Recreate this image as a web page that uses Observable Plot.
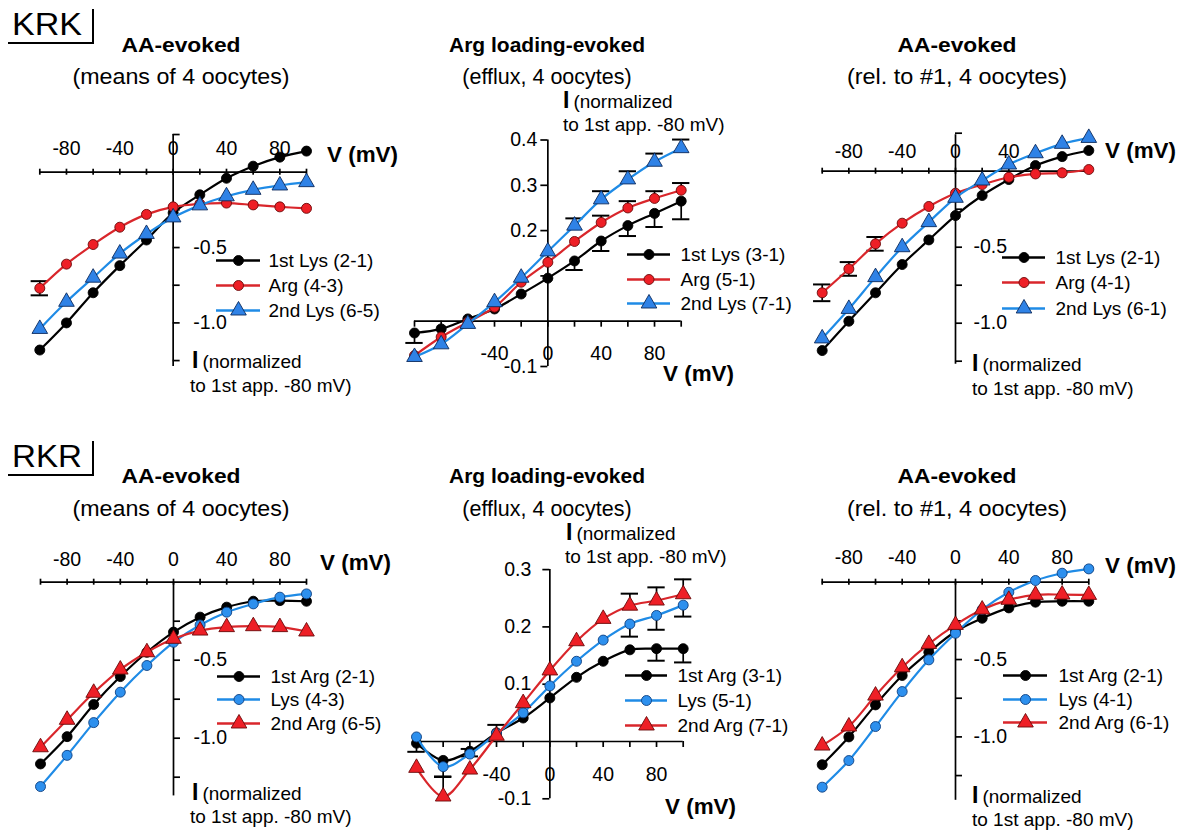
<!DOCTYPE html>
<html><head><meta charset="utf-8">
<script src="https://cdn.jsdelivr.net/npm/d3@7"></script>
<script src="https://cdn.jsdelivr.net/npm/@observablehq/plot@0.6"></script>
<style>
body{margin:0;background:#fff;}
#root{position:relative;width:1188px;height:830px;overflow:hidden;background:#fff;font-family:"Liberation Sans",Arial,sans-serif;}
#root svg{position:absolute;left:0;top:0;}
</style></head><body><div id="root"></div>
<script>
// ---------- data ----------
const V = [-100,-80,-60,-40,-20,0,20,40,60,80,100];
const vTicks = [-100,-80,-60,-40,-20,0,20,40,60,80,100];

// KRK, AA-evoked (means of 4 oocytes)
const krkMeansNames = ["1st Lys (2-1)","Arg (4-3)","2nd Lys (6-5)"];
const krkMeansLys1 = [-1.18,-1.00,-0.80,-0.62,-0.45,-0.27,-0.15,-0.04,0.04,0.10,0.14];
const krkMeansArg  = [-0.77,-0.61,-0.48,-0.365,-0.28,-0.23,-0.21,-0.205,-0.217,-0.23,-0.24];
const krkMeansArgErr = [0.047,0,0,0,0,0,0,0,0,0,0];
const krkMeansLys2 = [-1.04,-0.86,-0.70,-0.54,-0.41,-0.30,-0.22,-0.16,-0.117,-0.088,-0.066];

// KRK, Arg loading-evoked (efflux, 4 oocytes)
const krkEffluxNames = ["1st Lys (3-1)","Arg (5-1)","2nd Lys (7-1)"];
const krkEffluxLys1 = [-0.026,-0.017,0.005,0.027,0.06,0.095,0.133,0.177,0.211,0.238,0.265];
const krkEffluxLys1ErrDown = [0.022,0,0,0,0,0,0.02,0.022,0.023,0.03,0.04];
const krkEffluxArg = [-0.076,-0.035,-0.002,0.031,0.086,0.13,0.176,0.218,0.25,0.271,0.289];
const krkEffluxArgErrUp = [0,0,0,0,0,0,0,0.015,0.015,0.016,0.016];
const krkEffluxLys2 = [-0.079,-0.051,-0.006,0.042,0.096,0.154,0.211,0.269,0.313,0.352,0.382];
const krkEffluxLys2ErrUp = [0,0,0,0,0,0,0.016,0.018,0.018,0.018,0.019];

// KRK, AA-evoked (rel. to #1, 4 oocytes)
const krkRelNames = ["1st Lys (2-1)","Arg (4-1)","2nd Lys (6-1)"];
const krkRelLys1 = [-1.18,-0.987,-0.80,-0.614,-0.452,-0.292,-0.16,-0.055,0.037,0.096,0.136];
const krkRelArg = [-0.80,-0.643,-0.478,-0.342,-0.232,-0.145,-0.088,-0.04,-0.018,-0.011,0.011];
const krkRelArgErr = [0.055,0.045,0.045,0,0,0,0,0,0,0,0];
const krkRelLys2 = [-1.10,-0.906,-0.697,-0.50,-0.335,-0.175,-0.061,0.044,0.118,0.18,0.219];

// RKR, AA-evoked (means of 4 oocytes)
const rkrMeansNames = ["1st Arg (2-1)","Lys (4-3)","2nd Arg (6-5)"];
const rkrMeansArg1 = [-1.165,-0.99,-0.784,-0.605,-0.449,-0.32,-0.224,-0.16,-0.122,-0.118,-0.122];
const rkrMeansLys = [-1.31,-1.11,-0.90,-0.705,-0.534,-0.385,-0.274,-0.192,-0.139,-0.096,-0.075];
const rkrMeansArg2 = [-1.058,-0.882,-0.709,-0.56,-0.449,-0.363,-0.31,-0.288,-0.282,-0.288,-0.316];

// RKR, Arg loading-evoked (efflux, 4 oocytes)
const rkrEffluxNames = ["1st Arg (3-1)","Lys (5-1)","2nd Arg (7-1)"];
const rkrEffluxArg1 = [-0.003,-0.033,-0.017,0.015,0.041,0.076,0.112,0.14,0.16,0.162,0.162];
const rkrEffluxArg1ErrDown = [0.015,0,0.009,0,0,0,0,0,0,0.021,0.024];
const rkrEffluxLys = [0.008,-0.044,-0.022,0.014,0.05,0.097,0.14,0.177,0.205,0.22,0.238];
const rkrEffluxLysErrUp = [0,0,0.009,0.015,0,0,0,0,0,0,0];
const rkrEffluxLysErrDown = [0,0.018,0,0,0,0,0,0,0.022,0.025,0.02];
const rkrEffluxArg2 = [-0.046,-0.096,-0.049,0.01,0.067,0.124,0.175,0.214,0.237,0.246,0.257];
const rkrEffluxArg2ErrUp = [0,0.035,0,0,0,0,0,0,0.021,0.023,0.026];

// RKR, AA-evoked (rel. to #1, 4 oocytes)
const rkrRelNames = ["1st Arg (2-1)","Lys (4-1)","2nd Arg (6-1)"];
const rkrRelArg1 = [-1.18,-1.0,-0.793,-0.603,-0.453,-0.319,-0.233,-0.166,-0.129,-0.123,-0.123];
const rkrRelLys = [-1.325,-1.153,-0.933,-0.707,-0.502,-0.33,-0.177,-0.065,0.011,0.058,0.086];
const rkrRelArg2 = [-1.056,-0.933,-0.733,-0.55,-0.399,-0.276,-0.177,-0.114,-0.082,-0.08,-0.082];

// tick labels
const xLabelsAll = [-80,-40,0,40,80];
const xLabelsRel = [-80,-40,0,40];
const xLabelsEfflux = [-40,0,40,80];
const yTicksNeg = [-0.25,-0.5,-0.75,-1.0,-1.25];
const yTicksNegTop = [0.25,-0.25,-0.5,-0.75,-1.0,-1.25];
const yLabelsNeg = [-0.5,-1.0];
const yTicksKrkEfflux = [0.4,0.3,0.2,0.1,-0.1];
const yLabelsKrkEfflux = [0.4,0.3,0.2,-0.1];
const yTicksRkrEfflux = [0.3,0.2,0.1,-0.1];
const yLabelsRkrEfflux = [0.3,0.2,0.1,-0.1];

// ---------- styles ----------
const BLACK = {line:"#000", fill:"#000", stroke:"#000", symbol:"circle"};
const REDC = {line:"#d9262b", fill:"#ee1f26", stroke:"#6a0a0a", symbol:"circle"};
const BLUET = {line:"#1f8be6", fill:"#2f82e6", stroke:"#0c2a5c", symbol:"triangle"};
const BLUEC = {line:"#1f8be6", fill:"#2d90ee", stroke:"#0f3f80", symbol:"circle"};
const REDT = {line:"#d9262b", fill:"#ee1f26", stroke:"#6a0a0a", symbol:"triangle"};

const FONT = '"Liberation Sans", Arial, sans-serif';
const AX = 1.7;

function panel(cfg, series, names) {
  const {xl, xr, y0, k} = cfg;
  const sx = (xr - xl) / 200;
  const invX = px => -100 + (px - xl) / sx;
  const invY = py => (y0 - py) / k;
  const marks = [];
  marks.push(Plot.ruleY([0], {x1: -100, x2: 100, stroke: "#000", strokeWidth: AX}));
  marks.push(Plot.ruleX([0], {y1: cfg.yAxis[0], y2: cfg.yAxis[1], stroke: "#000", strokeWidth: AX}));
  marks.push(Plot.ruleX(vTicks, {x: d => d, y1: cfg.xTickUp / k, y2: -cfg.xTickDown / k, stroke: "#000", strokeWidth: AX}));
  marks.push(Plot.ruleY(cfg.yTicks, {y: d => d, x1: 0, x2: cfg.yTickLen / sx, stroke: "#000", strokeWidth: AX}));
  marks.push(Plot.text(cfg.xLabels, {x: d => d, y: 0, dy: cfg.xLabelDy, text: d => String(d), fontSize: 19.5}));
  marks.push(Plot.text(cfg.yLabels, {x: 0, y: d => d, dx: cfg.yLabelDx, textAnchor: cfg.yLabelAnchor, text: d => d.toFixed(1), fontSize: 19.5}));
  const cap = 6.5;
  series.forEach(s => {
    const up = s.errUp || s.err, down = s.errDown || s.err;
    const rows = s.values.map((v, i) => ({x: V[i], v, lo: v - (down ? down[i] : 0), hi: v + (up ? up[i] : 0)}))
      .filter(d => d.hi > d.v || d.lo < d.v);
    if (rows.length) {
      marks.push(Plot.ruleX(rows, {x: "x", y1: "lo", y2: "hi", stroke: "#000", strokeWidth: AX}));
      const caps = rows.flatMap(d => [d.lo < d.v ? {x: d.x, y: d.lo} : null, d.hi > d.v ? {x: d.x, y: d.hi} : null]).filter(Boolean);
      marks.push(Plot.ruleY(caps, {y: "y", x1: d => d.x - cap, x2: d => d.x + cap, stroke: "#000", strokeWidth: 2}));
    }
  });
  series.forEach(s => {
    marks.push(Plot.line(s.values, {x: (d, i) => V[i], y: d => d, curve: "catmull-rom", stroke: s.st.line, strokeWidth: 2.2}));
    marks.push(Plot.dot(s.values, {x: (d, i) => V[i], y: d => d, r: s.st.symbol === "triangle" ? 5.8 : 5, symbol: s.st.symbol, fill: s.st.fill, stroke: s.st.stroke, strokeWidth: 0.9}));
  });
  // legend
  const lg = cfg.legend;
  series.forEach((s, i) => {
    const yv = invY(lg.rows[i]);
    marks.push(Plot.ruleY([yv], {x1: invX(lg.x1), x2: invX(lg.x2), stroke: s.st.line, strokeWidth: 2.4}));
    marks.push(Plot.dot([yv], {x: invX((lg.x1 + lg.x2) / 2), y: d => d, r: s.st.symbol === "triangle" ? 5.8 : 5, symbol: s.st.symbol, fill: s.st.fill, stroke: s.st.stroke, strokeWidth: 0.9}));
    marks.push(Plot.text([names[i]], {x: invX(lg.tx), y: yv, text: d => d, textAnchor: "start", fontSize: 19}));
  });
  return Plot.plot({
    width: 1188, height: 830,
    x: {domain: [-100, 100], range: [xl, xr], axis: null},
    y: {domain: [0, 1], range: [y0, y0 - k], axis: null},
    style: {background: "transparent", overflow: "visible", fontFamily: FONT, fontSize: "19px", maxWidth: "none", position: "absolute", left: "0px", top: "0px"},
    marks
  });
}

const root = document.getElementById("root");

const topCfg = {xTickUp: 3, xTickDown: 3, yTickLen: 7, yLabelAnchor: "start"};
const effCfg = {xTickUp: 0, xTickDown: 6, yTickLen: -7, yLabelAnchor: "end"};

const p1 = panel({...topCfg, xl: 39.3, xr: 306, y0: 171.7, k: 150.7, yAxis: [0.25, -1.29], yTicks: yTicksNegTop,
  xLabels: xLabelsAll, xLabelDy: -23.8, yLabels: yLabelsNeg, yLabelDx: 20,
  legend: {x1: 216, x2: 260, tx: 268, rows: [260, 285, 310]}},
  [{values: krkMeansLys1, st: BLACK}, {values: krkMeansArg, err: krkMeansArgErr, st: REDC}, {values: krkMeansLys2, st: BLUET}], krkMeansNames);

const p2 = panel({...effCfg, xl: 414, xr: 680.7, y0: 320.7, k: 453, yAxis: [0.4, -0.1], yTicks: yTicksKrkEfflux,
  xLabels: xLabelsEfflux, xLabelDy: 33, yLabels: yLabelsKrkEfflux, yLabelDx: -10.5,
  legend: {x1: 627, x2: 670, tx: 680, rows: [254, 279, 303]}},
  [{values: krkEffluxLys1, errDown: krkEffluxLys1ErrDown, st: BLACK}, {values: krkEffluxArg, errUp: krkEffluxArgErrUp, st: REDC}, {values: krkEffluxLys2, errUp: krkEffluxLys2ErrUp, st: BLUET}], krkEffluxNames);

const p3 = panel({...topCfg, xl: 821.7, xr: 1088.3, y0: 170.7, k: 152, yAxis: [0.24, -1.27], yTicks: yTicksNegTop,
  xLabels: xLabelsRel, xLabelDy: -19.8, yLabels: yLabelsNeg, yLabelDx: 18,
  legend: {x1: 1002, x2: 1045, tx: 1055, rows: [257, 282, 308]}},
  [{values: krkRelLys1, st: BLACK}, {values: krkRelArg, err: krkRelArgErr, st: REDC}, {values: krkRelLys2, st: BLUET}], krkRelNames);

const p4 = panel({...topCfg, xl: 40, xr: 306, y0: 581.7, k: 156, yAxis: [0, -1.37], yTicks: yTicksNeg,
  xLabels: xLabelsAll, xLabelDy: -22.8, yLabels: yLabelsNeg, yLabelDx: 20,
  legend: {x1: 217, x2: 260, tx: 270, rows: [676, 699, 723]}},
  [{values: rkrMeansArg1, st: BLACK}, {values: rkrMeansLys, st: BLUEC}, {values: rkrMeansArg2, st: REDT}], rkrMeansNames);

const p5 = panel({...effCfg, xl: 416, xr: 682.7, y0: 741, k: 573, yAxis: [0.3, -0.1], yTicks: yTicksRkrEfflux,
  xLabels: xLabelsEfflux, xLabelDy: 33, yLabels: yLabelsRkrEfflux, yLabelDx: -18.5,
  legend: {x1: 625, x2: 667, tx: 677, rows: [675, 700, 725]}},
  [{values: rkrEffluxArg1, errDown: rkrEffluxArg1ErrDown, st: BLACK}, {values: rkrEffluxLys, errUp: rkrEffluxLysErrUp, errDown: rkrEffluxLysErrDown, st: BLUEC}, {values: rkrEffluxArg2, errUp: rkrEffluxArg2ErrUp, st: REDT}], rkrEffluxNames);

const p6 = panel({...topCfg, xl: 821.7, xr: 1088.3, y0: 581.7, k: 154.7, yAxis: [0, -1.41], yTicks: yTicksNeg,
  xLabels: xLabelsAll, xLabelDy: -24.8, yLabels: yLabelsNeg, yLabelDx: 18,
  legend: {x1: 1003, x2: 1047, tx: 1058, rows: [675, 699, 722]}},
  [{values: rkrRelArg1, st: BLACK}, {values: rkrRelLys, st: BLUEC}, {values: rkrRelArg2, st: REDT}], rkrRelNames);

// ---------- annotation layer (titles, axis names, construct labels) ----------
const svg = d3.select(root).append("svg").attr("width", 1188).attr("height", 830)
  .style("font-family", FONT);

function txt(x, y, s, size, opts = {}) {
  const t = svg.append("text").attr("x", x).attr("y", y).attr("font-size", size).text(s);
  if (opts.bold) t.attr("font-weight", "bold");
  if (opts.anchor) t.attr("text-anchor", opts.anchor);
  if (opts.len) t.attr("textLength", opts.len).attr("lengthAdjust", "spacingAndGlyphs");
  return t;
}
function iLabel(x, y) {
  const t = svg.append("text").attr("x", x).attr("y", y);
  t.append("tspan").attr("font-weight", "bold").attr("font-size", 23).text("I");
  t.append("tspan").attr("font-size", 19).attr("dx", 4).text("(normalized");
}

// construct labels
[["KRK", 0], ["RKR", 432]].forEach(([s, oy]) => {
  txt(12, 35 + oy, s, 32, {len: 70});
  svg.append("path").attr("d", `M8,${43 + oy}H93V${9 + oy}`).attr("fill", "none").attr("stroke", "#000").attr("stroke-width", 2);
});

const titles = [
  [181, "AA-evoked", 119, "(means of 4 oocytes)", 217],
  [547, "Arg loading-evoked", null, "(efflux, 4 oocytes)", null],
  [957, "AA-evoked", 119, "(rel. to #1, 4 oocytes)", 220]
];
[[52, 84], [483, 516]].forEach(([tb, sb]) => {
  titles.forEach(([cx, t, tl, s, sl]) => {
    txt(cx, tb, t, 21, {bold: true, anchor: "middle", len: tl});
    txt(cx, sb, s, 21.5, {anchor: "middle", len: sl});
  });
});

// axis names
[[327, 162], [663, 381], [1105, 158], [320, 570], [665, 814], [1105, 573]].forEach(([x, y]) => txt(x, y, "V (mV)", 22, {bold: true, len: 71}));
[[192, 368, 190, 392], [563, 108, 563, 131], [972, 371, 972, 395], [192, 800, 190, 823], [566, 540, 565, 563], [972, 803, 972, 826]]
  .forEach(([x, y, x2, y2]) => { iLabel(x, y); txt(x2, y2, "to 1st app. -80 mV)", 19); });

[p1, p2, p3, p4, p5, p6].forEach(p => root.appendChild(p));
</script></body></html>
